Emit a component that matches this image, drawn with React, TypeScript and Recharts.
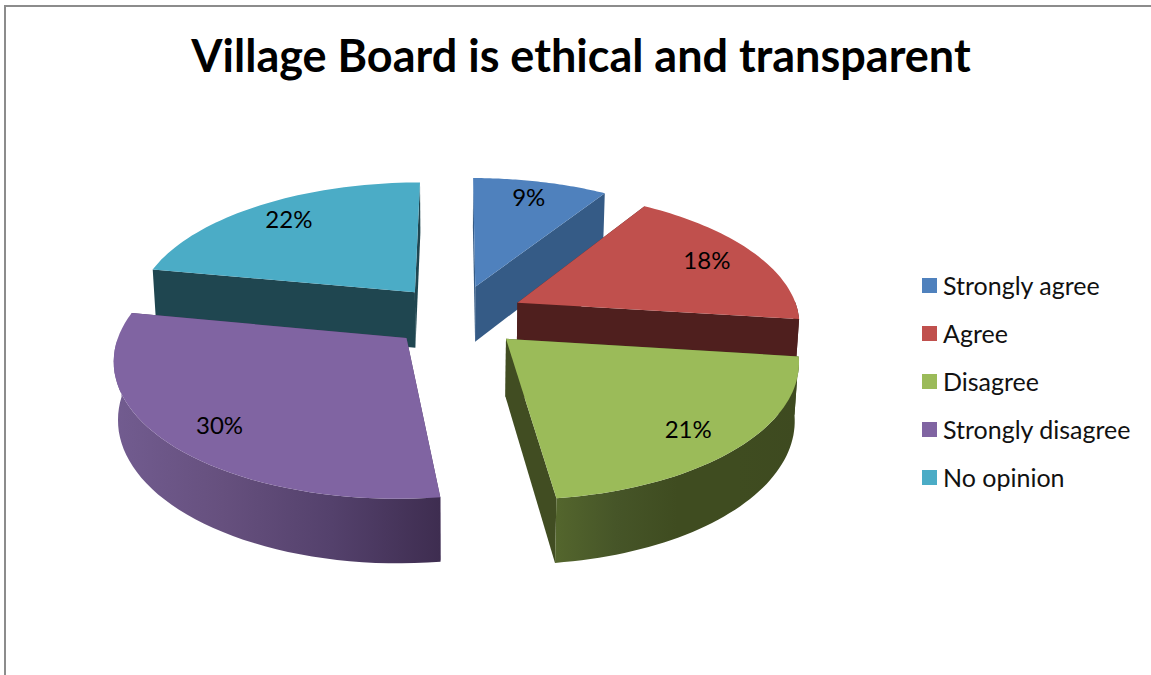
import React from "react";
import { PieChart, Pie, Legend } from "recharts";

const titleText = "Village Board is ethical and transparent";
const categories = ["Strongly agree", "Agree", "Disagree", "Strongly disagree", "No opinion"];
const shares = [9, 18, 21, 30, 22];
const faceColors = ["#4f81bd", "#c0504d", "#9bbb59", "#8064a2", "#4bacc6"];
const cutColors = ["#355b86", "#4f1f1e", "#414d22", "#4a3760", "#1f4650"];
const wallStops: string[][] = [
  ["#355b86", "#355b86"],
  ["#4f1f1e", "#4f1f1e"],
  ["#54662d", "#465528", "#3f4c20", "#3f4c20", "#3e4a20"],
  ["#725c90", "#66507e", "#54416c", "#3e2d50"],
  ["#1f4650", "#1f4650"],
];
const drawOrder = [4, 0, 1, 2, 3];

const FONT = "Lato, 'Open Sans', sans-serif";
const EXPLODE = 0.24;
const TILT = 0.466;
const PERSPECTIVE = 0.14;
const DEPTH = 58;
const rad = Math.PI / 180;

const rows = drawOrder.map((i) => ({
  name: categories[i],
  value: shares[i],
  fill: faceColors[i],
  idx: i,
}));
const leadShare = shares.slice(0, drawOrder[0]).reduce((a, b) => a + b, 0);
const startAt = 90 - (leadShare / 100) * 360;

type P = [number, number];
function project(cx: number, cy: number, R: number, mid: number, r: number, a: number, low = false): P {
  const X = EXPLODE * Math.sin(mid * rad) + r * Math.sin(a * rad);
  const Y = EXPLODE * Math.cos(mid * rad) + r * Math.cos(a * rad);
  const w = 1 + PERSPECTIVE * Y + (low ? 0.012 : 0);
  return [cx + (R * X) / w, cy - (R * TILT * Y) / w + (low ? DEPTH / (w + 0.015) : 0)];
}
const toPath = (pts: P[]) =>
  "M" + pts.map((p) => `${p[0].toFixed(1)},${p[1].toFixed(1)}`).join("L") + "Z";

function Slice3D(props: any) {
  const { cx, cy, outerRadius: R, startAngle, endAngle, payload } = props;
  const idx = payload?.idx ?? props.idx;
  const a0 = 90 - startAngle;
  const a1 = 90 - endAngle;
  const mid = (a0 + a1) / 2;
  const n = 48;
  const angles = Array.from({ length: n + 1 }, (_, i) => a0 + ((a1 - a0) * i) / n);
  const P = (r: number, a: number, low = false) => project(cx, cy, R, mid, r, a, low);
  const rim = angles.map((a) => P(1, a));
  const top = toPath([P(0, 0), ...rim]);
  const cutA = toPath([P(0, 0), P(1, a0), P(1, a0, true), P(0, 0, true)]);
  const cutB = toPath([P(0, 0), P(1, a1), P(1, a1, true), P(0, 0, true)]);
  const front = angles.filter((a) => Math.cos(a * rad) < 0.02);
  const wallTop = front.map((a) => P(1, a));
  const wallLow = front.map((a) => P(1, a, true)).reverse();
  const xs = [...wallTop, ...wallLow].map((p) => p[0]);
  const gid = `wall-${idx}`;
  const stops = wallStops[idx];
  return (
    <g>
      {front.length > 1 && (
        <defs>
          <linearGradient
            id={gid}
            gradientUnits="userSpaceOnUse"
            x1={Math.min(...xs)}
            x2={Math.max(...xs)}
            y1={0}
            y2={0}
          >
            {stops.map((c, i) => (
              <stop key={i} offset={i / (stops.length - 1)} stopColor={c} />
            ))}
          </linearGradient>
        </defs>
      )}
      <path d={cutA} fill={cutColors[idx]} />
      <path d={cutB} fill={cutColors[idx]} />
      {front.length > 1 && <path d={toPath([...wallTop, ...wallLow])} fill={`url(#${gid})`} />}
      <path d={top} fill={props.fill} />
    </g>
  );
}

function sliceLabel(props: any) {
  const { cx, cy, outerRadius: R, midAngle, value } = props;
  const a = 90 - midAngle;
  const x = project(cx, cy, R, a, 0.8, a)[0];
  const y = project(cx, cy, R, a, 0.84, a)[1];
  return (
    <text x={x} y={y} textAnchor="middle" dominantBaseline="central" fontFamily={FONT} fontSize={24} fill="#000">
      {`${value}%`}
    </text>
  );
}

function LegendBox(props: any) {
  const byName = new Map((props.payload ?? []).map((p: any) => [p.value, p]));
  return (
    <div style={{ fontFamily: FONT, fontSize: 25, color: "#111" }}>
      {categories.map((c, i) => {
        const item: any = byName.get(c);
        return (
          <div key={c} style={{ height: 48, display: "flex", alignItems: "center" }}>
            <span style={{ width: 15, height: 15, background: item?.color ?? faceColors[i], marginRight: 6, flex: "none" }} />
            <span style={{ whiteSpace: "nowrap" }}>{c}</span>
          </div>
        );
      })}
    </div>
  );
}

export default function App() {
  return (
    <div style={{ position: "fixed", left: 0, top: 0, width: 1151, height: 675, background: "#fff", overflow: "hidden" }}>
      <div style={{ position: "absolute", left: 4, top: 5, width: 1147, height: 670, borderTop: "2px solid #8c8c8c", borderLeft: "2px solid #8c8c8c", boxSizing: "border-box" }} />
      <div style={{ position: "absolute", left: 0, width: 1162, top: 27, textAlign: "center", fontFamily: FONT, fontWeight: 700, fontSize: 45, lineHeight: "56px", color: "#000", whiteSpace: "nowrap" }}>
        {titleText}
      </div>
      <PieChart width={1151} height={675} style={{ position: "absolute", left: 0, top: 0 }}>
        <Pie
          data={rows}
          dataKey="value"
          nameKey="name"
          cx={452}
          cy={311}
          innerRadius={0}
          outerRadius={282}
          startAngle={startAt}
          endAngle={startAt - 360}
          stroke="none"
          isAnimationActive={false}
          shape={Slice3D}
          label={sliceLabel}
          labelLine={false}
        />
        <Legend content={LegendBox} wrapperStyle={{ position: "absolute", left: 922, top: 261, width: 225 }} />
      </PieChart>
    </div>
  );
}
